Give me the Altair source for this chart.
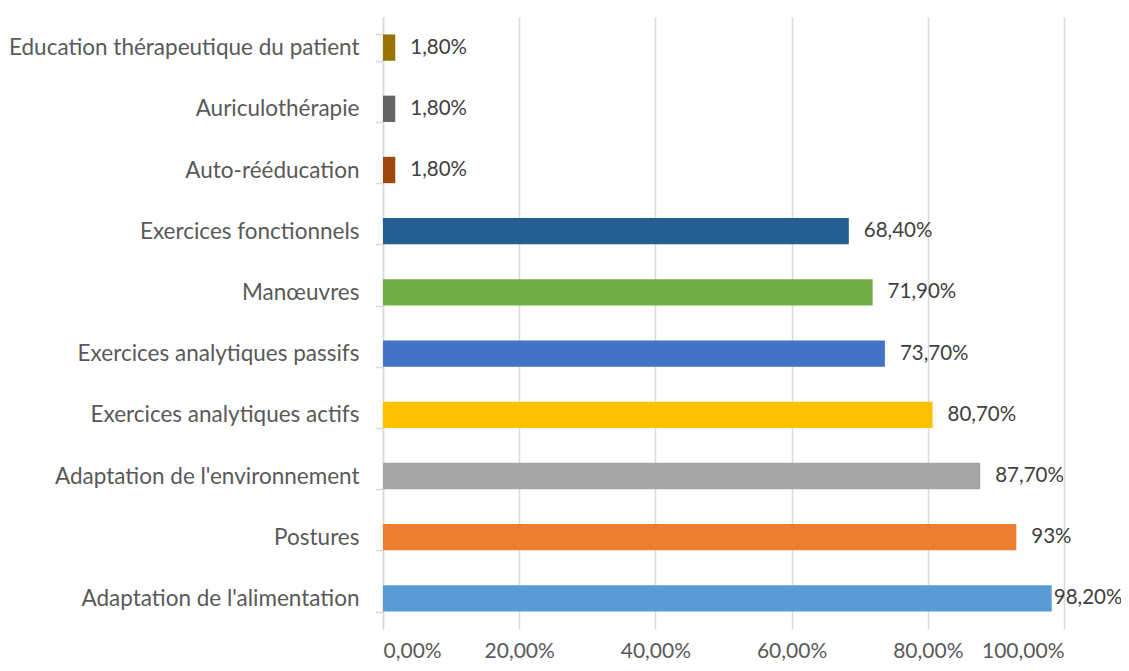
import altair as alt
import pandas as pd

categories = ["Education thérapeutique du patient", "Auriculothérapie", "Auto-rééducation",
              "Exercices fonctionnels", "Manœuvres", "Exercices analytiques passifs",
              "Exercices analytiques actifs", "Adaptation de l'environnement", "Postures",
              "Adaptation de l'alimentation"]
values = [1.8, 1.8, 1.8, 68.4, 71.9, 73.7, 80.7, 87.7, 93, 98.2]
value_labels = ["1,80%", "1,80%", "1,80%", "68,40%", "71,90%", "73,70%", "80,70%", "87,70%", "93%", "98,20%"]
colors = ["#997300", "#636363", "#9E480E", "#255E91", "#70AD47", "#4472C4",
          "#FFC000", "#A5A5A5", "#ED7D31", "#5B9BD5"]
x_ticks = [0, 20, 40, 60, 80, 100]

df = pd.DataFrame({"cat": categories, "value": values, "label": value_labels})

FONT = "Lato"
yscale = alt.Scale(domain=categories, paddingInner=0.57, paddingOuter=0.285)
xscale = alt.Scale(domain=[0, 100], nice=False)

bars = alt.Chart(df).mark_bar().encode(
    y=alt.Y("cat:N", scale=yscale, sort=categories, title=None,
            axis=alt.Axis(tickBand="extent", domainColor="#d9d9d9", tickColor="#d9d9d9",
                          tickSize=8, labelPadding=16, labelFont=FONT, labelFontSize=22.5,
                          labelColor="#595959", labelLimit=400, domainWidth=1.5, tickWidth=1.5)),
    x=alt.X("value:Q", scale=xscale, title=None,
            axis=alt.Axis(values=x_ticks, grid=True, gridColor="#d9d9d9", gridWidth=1.5,
                          domain=False, ticks=False, labelPadding=11, labelFont=FONT,
                          labelFontSize=21, labelColor="#595959",
                          labelExpr="replace(format(datum.value, '.2f'), '.', ',') + '%'")),
    color=alt.Color("cat:N", scale=alt.Scale(domain=categories, range=colors), legend=None),
)

text = alt.Chart(df).transform_calculate(
    lx="min(datum.value + 2.2, 98.5)"
).mark_text(align="left", baseline="middle", font=FONT, fontSize=20.5, color="#404040").encode(
    y=alt.Y("cat:N", scale=yscale, sort=categories),
    x=alt.X("lx:Q", scale=xscale),
    text="label:N",
)

chart = (bars + text).properties(
    width=681, height=612,
    padding={"left": 375, "top": 9, "right": 57, "bottom": 34},
    autosize=alt.AutoSizeParams(type="none"),
).configure_view(stroke=None)

chart.save("out.html", embed_options={"renderer": "svg", "actions": False})
